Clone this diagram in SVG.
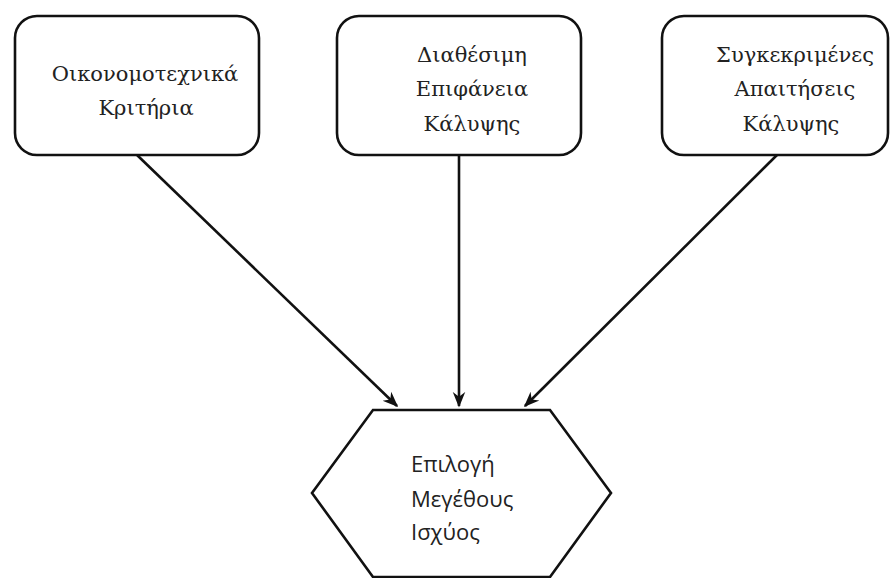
<svg xmlns="http://www.w3.org/2000/svg" width="892" height="578" viewBox="0 0 892 578">
<defs>
<style>
.box{fill:#fff;stroke:#111;stroke-width:2.6}
.t{font-family:"DejaVu Serif",serif;font-size:21px;fill:#222;text-anchor:middle}
.s{font-family:"Open Sans","Liberation Sans",sans-serif;font-size:22px;fill:#222}
.c{stroke:#111;stroke-width:2.6;fill:none;marker-end:url(#ah)}
</style>
<marker id="ah" viewBox="0 0 10 10" refX="9" refY="5" markerWidth="6" markerHeight="6" markerUnits="strokeWidth" orient="auto">
<path d="M0,1 L10,5 L0,9 L3,5 Z" fill="#111"/>
</marker>
</defs>
<rect width="892" height="578" fill="#fff"/>
<g id="connectors">
<line class="c" x1="137" y1="155" x2="397" y2="406"/>
<line class="c" x1="459" y1="155" x2="459" y2="406"/>
<line class="c" x1="777" y1="155" x2="525" y2="406"/>
</g>
<g id="n1">
<rect class="box" x="15" y="16" width="244" height="139" rx="22"/>
<text class="t" x="145" y="81">Οικονομοτεχνικά</text>
<text class="t" x="146" y="115">Κριτήρια</text>
</g>
<g id="n2">
<rect class="box" x="337" y="16" width="244" height="139" rx="22"/>
<text class="t" x="472" y="62">Διαθέσιμη</text>
<text class="t" x="472" y="96">Επιφάνεια</text>
<text class="t" x="472" y="131">Κάλυψης</text>
</g>
<g id="n3">
<rect class="box" x="662" y="16" width="226" height="139" rx="22"/>
<text class="t" x="795" y="62">Συγκεκριμένες</text>
<text class="t" x="795" y="96">Απαιτήσεις</text>
<text class="t" x="791" y="131">Κάλυψης</text>
</g>
<g id="n4">
<polygon class="box" points="373,410 550,410 611,493 550,577 373,577 312,493"/>
<text class="s" x="411" y="472">Επιλογή</text>
<text class="s" x="411" y="507">Μεγέθους</text>
<text class="s" x="411" y="540">Ισχύος</text>
</g>
</svg>
